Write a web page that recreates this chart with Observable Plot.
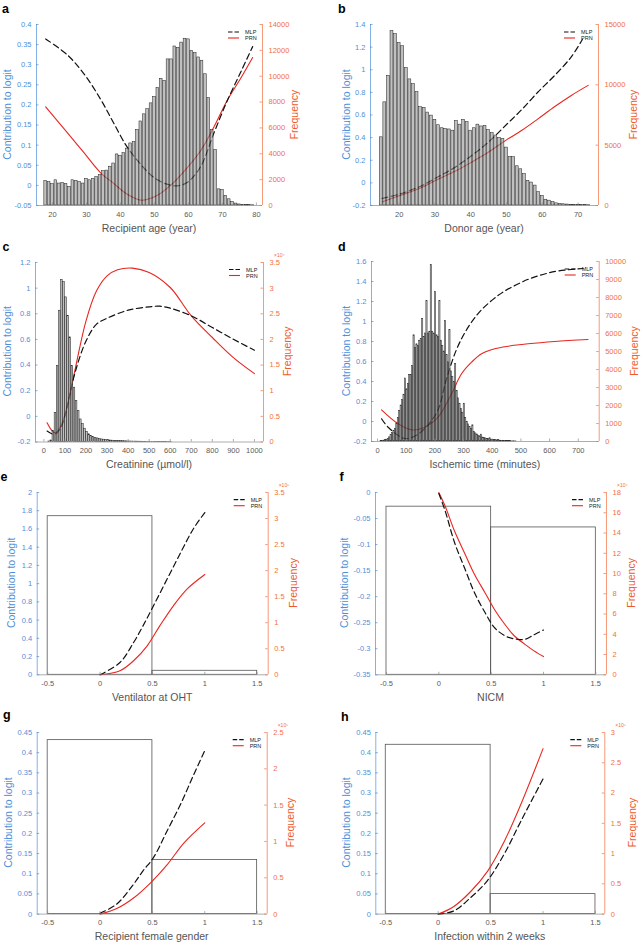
<!DOCTYPE html>
<html><head><meta charset="utf-8">
<script src="https://cdn.jsdelivr.net/npm/d3@7"></script>
<script src="https://cdn.jsdelivr.net/npm/@observablehq/plot@0.6"></script>
<style>
body{margin:0;background:#fff;}
#wrap{position:relative;width:642px;height:944px;overflow:hidden;}
.panel{position:absolute;}
#overlay{position:absolute;left:0;top:0;pointer-events:none;}
</style>
</head><body><div id="wrap"></div>
<script>
// ---------- DATA ----------
// a: Recipient age histogram (1-year bins) and curves
const ageA = d3.range(18, 80);
const freqA = [1900,1800,1650,1950,1700,1750,1650,1450,1950,1900,
 1800,1700,2050,1950,2050,2200,2350,2650,2700,3000,
 3250,3950,3850,4050,4400,4800,4900,5850,6500,7050,
 7450,7900,8400,9100,9800,9650,11300,11300,12300,12200,
 12600,12900,12850,11950,11800,11450,11200,10150,8300,5850,
 4300,1250,1200,750,480,280,150,80,50,30,
 20,15];
const mlpAx = [18,24.3,29.2,34.1,38,42,45.9,49.8,53.7,56.7,59.6,63.5,67.5,71.4,75.3,78.9];
const mlpAy = [0.364,0.325,0.278,0.215,0.155,0.095,0.053,0.02,0.003,-0.001,0.007,0.045,0.13,0.21,0.28,0.345];
const prnAx = [18,24.3,29.2,34.1,38,42,46.3,50.6,54.5,58.4,63.5,67.5,71.4,75.3,78.9];
const prnAy = [0.195,0.132,0.082,0.032,0.005,-0.022,-0.037,-0.026,-0.002,0.032,0.085,0.145,0.211,0.265,0.318];

// b: Donor age
const ageB = d3.range(15, 74);
const freqB = [5650,8550,10750,14450,14200,13450,13200,11400,10450,10050,
 9400,8150,8100,7700,7450,7100,6650,6400,6350,6300,
 6200,7000,6700,7100,6900,6200,6400,6700,6550,6600,
 6250,6000,5800,5600,5500,4800,4000,4000,3250,3000,
 2600,2050,1900,1650,1100,800,480,400,280,180,
 140,100,80,60,50,40,30,30,20];
const mlpBx = [15.2,20,26.3,30.9,35.6,40.2,44.9,50,54.2,58.8,63.5,68.1,71.2];
const mlpBy = [-0.138,-0.1,-0.025,0.054,0.137,0.24,0.359,0.516,0.646,0.803,0.951,1.114,1.268];
const prnBx = [15.4,20,26.3,30.9,35.6,40.2,44.9,50,54.2,58.8,63.5,68.1,72.8];
const prnBy = [-0.167,-0.114,-0.04,0.033,0.102,0.182,0.27,0.38,0.463,0.566,0.675,0.773,0.862];

// c: Creatinine (10-unit bins)
const creatC = d3.range(20, 610, 10);
const freqC = [100,300,2100,5700,14800,25600,31600,31200,28200,24600,
 20400,14800,10600,8000,6000,4400,3500,2600,2000,1500,
 1200,1000,800,700,550,500,450,400,350,300,
 270,240,210,190,170,150,130,120,110,100,
 90,80,70,60,55,50,45,40,35,32,
 30,27,25,22,20,18,16,14,12];
const mlpCx = [15,50,80,100,120,150,200,250,300,400,500,550,600,700,800,900,1000];
const mlpCy = [-0.115,-0.14,-0.088,0.003,0.146,0.354,0.588,0.719,0.765,0.828,0.854,0.859,0.844,0.784,0.693,0.601,0.516];
const prnCx = [15,40,55,80,100,120,150,200,250,300,350,420,500,600,700,800,900,1000];
const prnCy = [-0.05,-0.115,-0.128,-0.075,0.016,0.146,0.38,0.745,0.979,1.096,1.143,1.156,1.122,1.005,0.784,0.615,0.458,0.333];

// d: Ischemic time (5-minute bins)
const timeD = d3.range(10, 485, 5);
const freqD = [30,40,50,70,100,150,230,350,480,600,
 700,1000,1300,1700,2000,2300,2600,3500,2900,3200,
 3700,3700,4200,5900,5200,5400,5300,5600,5700,6800,
 5800,6000,7800,6000,6100,9800,6100,6000,8300,5900,
 5800,7800,5600,5300,5000,6700,4800,4400,6200,3900,
 3600,3300,4300,2800,2400,2100,1800,1600,2100,1300,
 1100,950,800,700,900,520,450,390,330,290,
 380,220,190,170,150,130,180,100,90,80,
 70,60,90,50,40,35,30,25,20,18,
 15,12,10,8,6];
const mlpDx = [14,37,95,134,169,210,239,274,309,350,391,437,484,530,577,623,717];
const mlpDy = [0.027,-0.057,-0.17,-0.14,-0.057,0.11,0.41,0.71,0.91,1.077,1.193,1.293,1.367,1.427,1.47,1.503,1.53];
const prnDx = [14,72,118,165,211,258,293,328,363,409,456,525,618,734];
const prnDy = [0.117,-0.023,-0.083,-0.057,0.043,0.277,0.477,0.593,0.677,0.727,0.753,0.777,0.8,0.82];

// e-h: binary variables (bins at 0 and 1)
const binLo = [-0.5, 0.5];
const binHi = [0.5, 1.5];
const freqE = [304500, 7700];
const mlpEx = [0,0.19,0.32,0.41,0.51,0.64,0.77,0.89,1.0];
const mlpEy = [0,0.135,0.354,0.537,0.757,1.05,1.342,1.6,1.78];
const prnEx = [0,0.19,0.32,0.45,0.57,0.70,0.83,1.0];
const prnEy = [0,0.044,0.154,0.318,0.537,0.757,0.94,1.1];

const freqF = [166000, 145500];
const mlpFx = [0,0.06,0.15,0.25,0.34,0.44,0.53,0.63,0.72,0.82,0.91,1.0];
const mlpFy = [-0.002,-0.035,-0.096,-0.147,-0.192,-0.23,-0.259,-0.275,-0.281,-0.282,-0.273,-0.264];
const prnFx = [0,0.06,0.15,0.25,0.34,0.44,0.53,0.63,0.72,0.82,0.91,1.0];
const prnFy = [0,-0.026,-0.074,-0.118,-0.157,-0.192,-0.224,-0.253,-0.275,-0.291,-0.304,-0.315];

const freqG = [239500, 74400];
const mlpGx = [0,0.16,0.32,0.41,0.51,0.64,0.77,0.89,1.0];
const mlpGy = [0.002,0.025,0.074,0.107,0.14,0.206,0.273,0.343,0.405];
const prnGx = [0,0.16,0.32,0.48,0.64,0.80,1.0];
const prnGy = [0,0.014,0.04,0.077,0.122,0.176,0.226];

const freqH = [279700, 33000];
const mlpHx = [0,0.15,0.31,0.47,0.63,0.79,1.0];
const mlpHy = [0,0.008,0.041,0.083,0.149,0.231,0.335];
const prnHx = [0,0.15,0.31,0.47,0.63,0.79,1.0];
const prnHy = [0,0.019,0.056,0.106,0.18,0.273,0.41];

// tick labels
const xTicksA = [20,30,40,50,60,70,80];
const yTicksA = [-0.05,0,0.05,0.1,0.15,0.2,0.25,0.3,0.35,0.4];
const rTicksA = [0,2000,4000,6000,8000,10000,12000,14000];
const xTicksB = [20,30,40,50,60,70];
const yTicksB = [-0.2,0,0.2,0.4,0.6,0.8,1,1.2,1.4];
const rTicksB = [0,5000,10000,15000];
const xTicksC = [0,100,200,300,400,500,600,700,800,900,1000];
const yTicksC = [-0.2,0,0.2,0.4,0.6,0.8,1,1.2];
const rTicksC = [0,0.5,1,1.5,2,2.5,3,3.5];
const xTicksD = [0,100,200,300,400,500,600,700];
const yTicksD = [-0.2,0,0.2,0.4,0.6,0.8,1,1.2,1.4,1.6];
const rTicksD = [0,1000,2000,3000,4000,5000,6000,7000,8000,9000,10000];
const xTicksBin = [-0.5,0,0.5,1,1.5];
const yTicksE = [0,0.2,0.4,0.6,0.8,1,1.2,1.4,1.6,1.8,2];
const rTicksE = [0,0.5,1,1.5,2,2.5,3,3.5];
const yTicksF = [-0.35,-0.3,-0.25,-0.2,-0.15,-0.1,-0.05,0];
const rTicksF = [0,2,4,6,8,10,12,14,16,18];
const yTicksG = [0,0.05,0.1,0.15,0.2,0.25,0.3,0.35,0.4,0.45];
const rTicksG = [0,0.5,1,1.5,2,2.5];
const yTicksH = [0,0.05,0.1,0.15,0.2,0.25,0.3,0.35,0.4,0.45];
const rTicksH = [0,0.5,1,1.5,2,2.5,3];

// ---------- STYLE / LAYOUT ----------
const BLUE = "#4f8fd8", ORANGE = "#f2703f", ORANGE_T = "#ef5a2a", XGRAY = "#5a5a5a", RED = "#e8261f";
const FONT = "'Liberation Sans', Arial, Helvetica, sans-serif";

const panels = [
 {id:"a", col:0, fx:[36,262], fy:[24,205], xd:[15.3,81.8], yd:[-0.05,0.4], fmax:14000, unit:1, expo:null,
  xt:xTicksA, yt:yTicksA, rt:rTicksA, hx1:ageA.map(v=>v-0.5), hx2:ageA.map(v=>v+0.5), hf:freqA, kind:"fill", inset:0.35,
  mlp:[mlpAx,mlpAy], prn:[prnAx,prnAy], xlabel:"Recipient age (year)", dl:-29, dr:32, letter:[2,12.7]},
 {id:"b", col:1, fx:[370,598], fy:[24,205], xd:[12,75.7], yd:[-0.2,1.4], fmax:15000, unit:1, expo:null,
  xt:xTicksB, yt:yTicksB, rt:rTicksB, hx1:ageB.map(v=>v-0.5), hx2:ageB.map(v=>v+0.5), hf:freqB, kind:"fill", inset:0.35,
  mlp:[mlpBx,mlpBy], prn:[prnBx,prnBy], xlabel:"Donor age (year)", dl:-24, dr:35, letter:[338,12.7]},
 {id:"c", col:0, fx:[35,263], fy:[261.5,441], xd:[-40,1043], yd:[-0.2,1.2], fmax:35000, unit:1e4, expo:"×10⁴",
  xt:xTicksC, yt:yTicksC, rt:rTicksC, hx1:creatC, hx2:creatC.map(v=>v+10), hf:freqC, kind:"fill", inset:0.2,
  mlp:[mlpCx,mlpCy], prn:[prnCx,prnCy], xlabel:"Creatinine (µmol/l)", dl:-28, dr:24, letter:[2.5,250.7]},
 {id:"d", col:1, fx:[371,598.7], fy:[261,441], xd:[-21,773], yd:[-0.2,1.6], fmax:10000, unit:1, expo:null,
  xt:xTicksD, yt:yTicksD, rt:rTicksD, hx1:timeD, hx2:timeD.map(v=>v+5), hf:freqD, kind:"fill", inset:0.12,
  mlp:[mlpDx,mlpDy], prn:[prnDx,prnDy], xlabel:"Ischemic time (minutes)", dl:-25, dr:36, letter:[338,250.7]},
 {id:"e", col:0, fx:[36.7,267.7], fy:[491.7,674], xd:[-0.6,1.605], yd:[0,2], fmax:3.5e5, unit:1e5, expo:"×10⁵",
  xt:xTicksBin, yt:yTicksE, rt:rTicksE, hx1:binLo, hx2:binHi, hf:freqE, kind:"outline", inset:0,
  mlp:[mlpEx,mlpEy], prn:[prnEx,prnEy], xlabel:"Ventilator at OHT", dl:-25, dr:26, letter:[0.5,481]},
 {id:"f", col:1, fx:[375,606], fy:[491.7,674], xd:[-0.605,1.602], yd:[-0.35,0], fmax:18e4, unit:1e4, expo:"×10⁴",
  xt:xTicksBin, yt:yTicksF, rt:rTicksF, hx1:binLo, hx2:binHi, hf:freqF, kind:"outline", inset:0,
  mlp:[mlpFx,mlpFy], prn:[prnFx,prnFy], xlabel:"NICM", dl:-31, dr:25, letter:[339.5,480.5]},
 {id:"g", col:0, fx:[36.7,266.7], fy:[731.7,913.3], xd:[-0.6,1.596], yd:[0,0.45], fmax:2.5e5, unit:1e5, expo:"×10⁵",
  xt:xTicksBin, yt:yTicksG, rt:rTicksG, hx1:binLo, hx2:binHi, hf:freqG, kind:"outline", inset:0,
  mlp:[mlpGx,mlpGy], prn:[prnGx,prnGy], xlabel:"Recipient female gender", dl:-28, dr:23.5, letter:[3,718.5]},
 {id:"h", col:1, fx:[375.3,604.3], fy:[731.7,913.3], xd:[-0.595,1.589], yd:[0,0.45], fmax:3e5, unit:1e5, expo:"×10⁵",
  xt:xTicksBin, yt:yTicksH, rt:rTicksH, hx1:binLo, hx2:binHi, hf:freqH, kind:"outline", inset:0,
  mlp:[mlpHx,mlpHy], prn:[prnHx,prnHy], xlabel:"Infection within 2 weeks", dl:-29, dr:28, letter:[341,720.5]}
];

const fmt = d => String(Math.round(d * 1000) / 1000);
const wrap = document.getElementById("wrap");

function makePanel(p) {
  const L = p.col ? 321 : 0;
  const mt = Math.min(40, p.fy[0]);
  const top = p.fy[0] - mt;
  const fh = p.fy[1] - p.fy[0], fw = p.fx[1] - p.fx[0];
  const H = mt + fh + 40;
  const [y0, y1] = p.yd;
  const toL = f => y0 + f / p.fmax * (y1 - y0);
  const fromL = v => (v - y0) / (y1 - y0) * p.fmax / p.unit;
  const idx = d3.range(p.hf.length);
  const histStyle = p.kind === "fill"
    ? {fill: "#9a9a9a", fillOpacity: 0.62, stroke: "#1e1e1e", strokeWidth: 0.5, insetLeft: p.inset, insetRight: p.inset}
    : {fill: "none", stroke: "#555", strokeWidth: 0.8};
  const hist = Plot.rect(idx, {x1: i => p.hx1[i], x2: i => p.hx2[i], y1: () => y0, y2: i => toL(p.hf[i]), ...histStyle});
  const mlp = p.mlp[0].map((x, i) => ({x, y: p.mlp[1][i]}));
  const prn = p.prn[0].map((x, i) => ({x, y: p.prn[1][i]}));
  const rVals = p.rt.map(t => toL(t * p.unit));
  const marks = [];
  if (p.kind === "outline") marks.push(hist);
  marks.push(Plot.line(prn, {x: "x", y: "y", stroke: RED, strokeWidth: 1.1, curve: "catmull-rom"}));
  marks.push(Plot.line(mlp, {x: "x", y: "y", stroke: "#111", strokeWidth: 1.2, strokeDasharray: "6,3.5", curve: "catmull-rom"}));
  if (p.kind === "fill") marks.push(hist);
  marks.push(
    Plot.ruleY([y0], {stroke: "#8a8a8a", strokeWidth: 0.7}),
    Plot.ruleX([p.xd[0]], {stroke: BLUE, strokeWidth: 0.7}),
    Plot.ruleX([p.xd[1]], {stroke: ORANGE, strokeWidth: 0.7}),
    Plot.tickY(p.yt, {y: d => d, stroke: BLUE, strokeWidth: 0.7, insetRight: fw - 2.5}),
    Plot.tickY(rVals, {y: d => d, stroke: ORANGE, strokeWidth: 0.7, insetLeft: fw - 2.5}),
    Plot.tickX(p.xt, {x: d => d, stroke: "#8a8a8a", strokeWidth: 0.7, insetTop: fh - 2.5}),
    Plot.axisY(p.yt, {anchor: "left", tickSize: 0, tickPadding: 5, tickFormat: fmt, color: BLUE, label: null}),
    Plot.axisY(rVals, {anchor: "right", tickSize: 0, tickPadding: 6, tickFormat: d => fmt(fromL(d)), color: ORANGE, label: null}),
    Plot.axisX(p.xt, {anchor: "bottom", tickSize: 0, tickPadding: 6, tickFormat: fmt, color: XGRAY, label: null})
  );
  const chart = Plot.plot({
    width: 321, height: H,
    marginLeft: p.fx[0] - L, marginRight: L + 321 - p.fx[1],
    marginTop: mt, marginBottom: 40,
    x: {domain: p.xd, label: null},
    y: {domain: p.yd, label: null},
    style: {fontFamily: FONT, fontSize: "7.5px", background: "transparent", overflow: "visible"},
    marks
  });
  const div = document.createElement("div");
  div.className = "panel";
  div.style.left = L + "px";
  div.style.top = top + "px";
  div.appendChild(chart);
  wrap.appendChild(div);
}
panels.forEach(makePanel);

// overlay: panel letters, legends, axis titles, exponent labels
const ov = d3.select(wrap).append("svg").attr("id", "overlay")
  .attr("width", 642).attr("height", 944).style("font-family", FONT);
panels.forEach(p => {
  const g = ov.append("g");
  g.append("text").attr("x", p.letter[0]).attr("y", p.letter[1]).attr("font-size", 12.5)
    .attr("font-weight", "bold").attr("fill", "#000").text(p.id);
  const cy = (p.fy[0] + p.fy[1]) / 2;
  g.append("text").attr("transform", `translate(${p.fx[0] + p.dl},${cy}) rotate(-90)`)
    .attr("text-anchor", "middle").attr("dy", "0.35em").attr("font-size", 10.5).attr("fill", BLUE)
    .text("Contribution to logit");
  g.append("text").attr("transform", `translate(${p.fx[1] + p.dr},${cy}) rotate(-90)`)
    .attr("text-anchor", "middle").attr("dy", "0.35em").attr("font-size", 10.5).attr("fill", ORANGE_T)
    .text("Frequency");
  g.append("text").attr("x", (p.fx[0] + p.fx[1]) / 2).attr("y", p.fy[1] + 26.5)
    .attr("text-anchor", "middle").attr("font-size", 10.5).attr("fill", "#555").text(p.xlabel);
  if (p.expo) {
    g.append("text").attr("x", p.fx[1] + 11).attr("y", p.fy[0] - 5).attr("font-size", 5)
      .attr("fill", ORANGE).text(p.expo);
  }
  const lx1 = p.fx[1] - 34, lx2 = p.fx[1] - 23, ly1 = p.fy[0] + 8, ly2 = p.fy[0] + 14;
  g.append("line").attr("x1", lx1).attr("x2", lx2).attr("y1", ly1).attr("y2", ly1)
    .attr("stroke", "#111").attr("stroke-width", 1.2).attr("stroke-dasharray", "4.5,2");
  g.append("line").attr("x1", lx1).attr("x2", lx2).attr("y1", ly2).attr("y2", ly2)
    .attr("stroke", RED).attr("stroke-width", 1.1);
  g.append("text").attr("x", p.fx[1] - 17).attr("y", ly1 + 2).attr("font-size", 5.5).attr("fill", "#222").text("MLP");
  g.append("text").attr("x", p.fx[1] - 17).attr("y", ly2 + 2).attr("font-size", 5.5).attr("fill", "#222").text("PRN");
});
</script>
</body></html>
